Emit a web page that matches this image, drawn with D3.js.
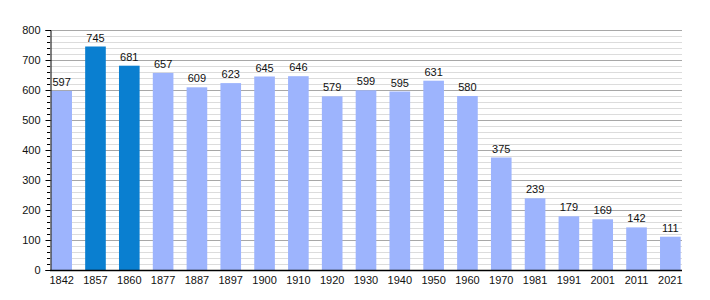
<!DOCTYPE html>
<html><head><meta charset="utf-8">
<script src="https://cdn.jsdelivr.net/npm/d3@7"></script>
<style>body{margin:0;background:#fff}svg{display:block}text{font-family:"Liberation Sans",Arial,sans-serif;fill:#111}</style>
</head><body>
<script>
const years = ["1842","1857","1860","1877","1887","1897","1900","1910","1920","1930","1940","1950","1960","1970","1981","1991","2001","2011","2021"];
const population = [597,745,681,657,609,623,645,646,579,599,595,631,580,375,239,179,169,142,111];
const highlighted = ["1857","1860"];
const yTicks = [0,100,200,300,400,500,600,700,800];

(function () {
const W = 710, H = 300;
const mL = 50, mR = 682, mT = 30, mB = 270;
const svg = d3.select("body").append("svg").attr("width", W).attr("height", H);

const y = d3.scaleLinear().domain([0, 800]).range([mB, mT]);
const x = d3.scaleBand().domain(years).range([mL, mR]).paddingInner(0.39).paddingOuter(0.04);

// minor grid
const minor = d3.range(20, 801, 20).filter(v => v % 100 !== 0);
svg.append("g").selectAll("line").data(minor).join("line")
  .attr("x1", mL).attr("x2", mR)
  .attr("y1", d => Math.round(y(d)) + 0.5).attr("y2", d => Math.round(y(d)) + 0.5)
  .attr("stroke", "#dcdcdc").attr("stroke-width", 1);
svg.append("g").selectAll("line").data(yTicks.filter(v => v > 0)).join("line")
  .attr("x1", mL).attr("x2", mR)
  .attr("y1", d => Math.round(y(d)) + 0.5).attr("y2", d => Math.round(y(d)) + 0.5)
  .attr("stroke", "#a8a8a8").attr("stroke-width", 1);

// bars
svg.append("g").selectAll("rect").data(years).join("rect")
  .attr("x", d => x(d)).attr("width", x.bandwidth())
  .attr("y", (d, i) => y(population[i])).attr("height", (d, i) => mB - y(population[i]))
  .attr("fill", d => highlighted.includes(d) ? "#0a7fd0" : "#9db4fd");

// value labels
svg.append("g").selectAll("text").data(years).join("text")
  .attr("x", d => x(d) + x.bandwidth() / 2)
  .attr("y", (d, i) => y(population[i]) - 5)
  .attr("text-anchor", "middle").attr("font-size", 11)
  .text((d, i) => population[i]);

// y axis
const yAxis = svg.append("g").attr("transform", `translate(${mL + 0.5},0)`)
  .call(d3.axisLeft(y).tickValues(yTicks).tickSize(5).tickPadding(5).tickFormat(d3.format("d")));
yAxis.select(".domain").attr("stroke", "#000");
yAxis.selectAll(".tick line").attr("stroke", "#000");
yAxis.selectAll("text").attr("font-size", 11).style("font-family", "Liberation Sans, Arial, sans-serif").attr("fill", "#111");
svg.append("g").selectAll("line").data(minor).join("line")
  .attr("x1", mL - 3).attr("x2", mL)
  .attr("y1", d => Math.round(y(d)) + 0.5).attr("y2", d => Math.round(y(d)) + 0.5)
  .attr("stroke", "#000");

// x axis
svg.append("line").attr("x1", mL).attr("x2", mR)
  .attr("y1", mB + 0.5).attr("y2", mB + 0.5).attr("stroke", "#000").attr("stroke-width", 1.5);
svg.append("g").selectAll("text").data(years).join("text")
  .attr("x", d => x(d) + x.bandwidth() / 2).attr("y", mB + 14)
  .attr("text-anchor", "middle").attr("font-size", 11).text(d => d);
})();
</script>
</body></html>
